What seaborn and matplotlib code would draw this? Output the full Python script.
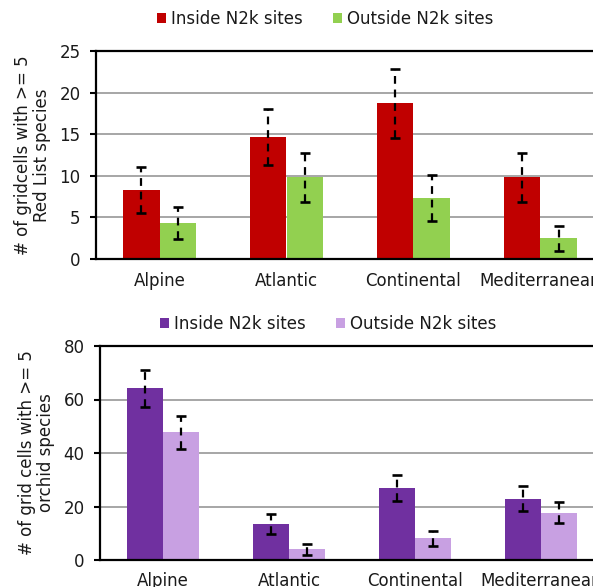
import numpy as np
import pandas as pd
import seaborn as sns
import matplotlib
matplotlib.use("Agg")
import matplotlib.pyplot as plt
from matplotlib.patches import Patch

# Biogeographic regions and site groups
regions = ["Alpine", "Atlantic", "Continental", "Mediterranean"]
groups = ["Inside N2k sites", "Outside N2k sites"]

# Grid cells with >= 5 Red List species
redlist_inside = [8.3, 14.7, 18.7, 9.8]
redlist_outside = [4.35, 9.8, 7.3, 2.5]
redlist_inside_err = [2.75, 3.35, 4.1, 3.0]
redlist_outside_err = [1.9, 3.0, 2.75, 1.5]

# Grid cells with >= 5 orchid species
orchid_inside = [64.2, 13.5, 27.0, 22.9]
orchid_outside = [47.7, 4.0, 8.1, 17.7]
orchid_inside_err = [7.0, 3.6, 4.9, 4.6]
orchid_outside_err = [6.3, 2.0, 2.9, 4.0]

redlist_ticks = [0, 5, 10, 15, 20, 25]
orchid_ticks = [0, 20, 40, 60, 80]

RED, GREEN = "#C00000", "#92D050"
PURPLE, LILAC = "#7030A0", "#C8A0E2"

sns.set_style("white")
plt.rcParams["font.family"] = ["DejaVu Sans"]
FS = 12

fig = plt.figure(figsize=(5.93, 5.87), dpi=100)
ax_top = fig.add_axes([96 / 593, 1 - 259 / 587, 508 / 593, 208 / 587])
ax_bot = fig.add_axes([100 / 593, 27 / 587, 504 / 593, 214 / 587])


def panel(ax, inside, outside, inside_err, outside_err, colors, ticks, ylabel,
          legend_y, legend_x):
    df = pd.DataFrame({
        "region": regions * 2,
        "site": [groups[0]] * 4 + [groups[1]] * 4,
        "value": list(inside) + list(outside),
    })
    sns.barplot(data=df, x="region", y="value", hue="site", order=regions,
                hue_order=groups, palette=colors, width=0.575, saturation=1,
                errorbar=None, legend=False, ax=ax, edgecolor="none")

    # Dashed error bars with solid caps, from the bar heights
    for cont, errs in zip(ax.containers, [inside_err, outside_err]):
        xs = [b.get_x() + b.get_width() / 2 for b in cont]
        hs = [b.get_height() for b in cont]
        eb = ax.errorbar(xs, hs, yerr=errs, fmt="none", ecolor="black",
                         elinewidth=1.6, capsize=3.5, capthick=1.9, zorder=5)
        eb[2][0].set_linestyle((0, (3.5, 2.6)))

    ax.set_xlim(-0.5, 3.5)
    ax.set_ylim(ticks[0], ticks[-1])
    ax.set_yticks(ticks)
    ax.set_yticklabels([str(t) for t in ticks], fontsize=FS, color="#1a1a1a")
    ax.set_xticks(range(len(regions)))
    ax.set_xticklabels(regions, fontsize=FS, color="#1a1a1a")
    ax.set_xticks(np.arange(-0.5, len(regions), 1), minor=True)
    ax.tick_params(axis="x", which="major", length=0, pad=9)
    ax.tick_params(axis="x", which="minor", length=4, width=1.5,
                   direction="out", color="black")
    ax.tick_params(axis="y", length=4, width=1.5, direction="out",
                   color="black", pad=7, left=True)
    ax.set_xlabel("")
    ax.set_ylabel(ylabel, fontsize=FS, labelpad=6, color="#1a1a1a",
                  multialignment="center", linespacing=1.1)
    ax.yaxis.grid(True, color="#a6a6a6", linewidth=1.4)
    ax.set_axisbelow(True)
    for side in ["left", "bottom", "top"]:
        ax.spines[side].set_visible(True)
        ax.spines[side].set_color("black")
        ax.spines[side].set_linewidth(1.6)
    ax.spines["right"].set_visible(False)

    handles = [Patch(facecolor=c, edgecolor="none") for c in colors]
    fig.legend(handles, groups, loc="center",
               bbox_to_anchor=(legend_x, legend_y), ncol=2, frameon=False,
               fontsize=FS, handlelength=0.55, handleheight=0.55,
               handletextpad=0.3, columnspacing=1.8, labelcolor="#1a1a1a",
               borderpad=0.2)


panel(ax_top, redlist_inside, redlist_outside, redlist_inside_err,
      redlist_outside_err, [RED, GREEN], redlist_ticks,
      "# of gridcells with >= 5\nRed List species", 1 - 19 / 587, 325 / 593)
panel(ax_bot, orchid_inside, orchid_outside, orchid_inside_err,
      orchid_outside_err, [PURPLE, LILAC], orchid_ticks,
      "# of grid cells with >= 5\norchid species", 1 - 324 / 587, 328 / 593)

fig.savefig("out.png", dpi=100)
